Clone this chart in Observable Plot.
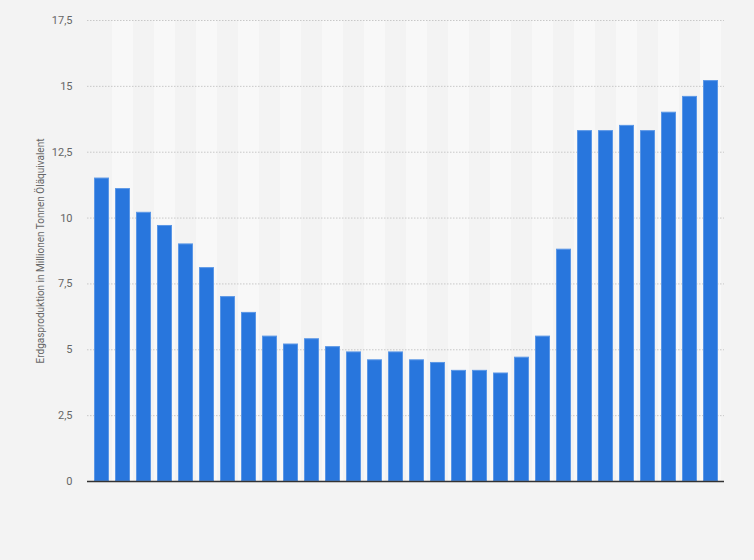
<!DOCTYPE html>
<html>
<head>
<meta charset="utf-8">
<script src="https://cdn.jsdelivr.net/npm/d3@7"></script>
<script src="https://cdn.jsdelivr.net/npm/@observablehq/plot@0.6"></script>
<style>
  html, body { margin: 0; padding: 0; background: #f3f3f3; }
  #chart { width: 754px; height: 560px; }
  svg { display: block; }
</style>
</head>
<body>
<div id="chart"></div>
<script>
const years = d3.range(1991, 2021).map(String);
const production = [11.5, 11.1, 10.2, 9.7, 9.0, 8.1, 7.0, 6.4, 5.5, 5.2,
                    5.4, 5.1, 4.9, 4.6, 4.9, 4.6, 4.5, 4.2, 4.2, 4.1,
                    4.7, 5.5, 8.8, 13.3, 13.3, 13.5, 13.3, 14.0, 14.6, 15.2];
const yTicks = [0, 2.5, 5, 7.5, 10, 12.5, 15, 17.5];
const yLabel = "Erdgasproduktion in Millionen Tonnen Öläquivalent";

const data = years.map((y, i) => ({year: y, value: production[i]}));
const bands = years.filter((y, i) => i % 2 === 1);
const fmt = v => String(v).replace(".", ",");

const plot = Plot.plot({
  width: 754,
  height: 560,
  marginLeft: 87,
  marginRight: 30,
  marginTop: 20,
  marginBottom: 79,
  style: {background: "#f3f3f3", fontFamily: "Roboto, 'Liberation Sans', sans-serif"},
  x: {domain: years, padding: 0, axis: null},
  y: {domain: [0, 17.5], ticks: yTicks, tickFormat: fmt, label: null},
  marks: [
    Plot.cell(bands, {x: d => d, fill: "#f8f8f8"}),
    Plot.gridY(yTicks.filter(t => t > 0), {stroke: "#c8c8c8", strokeOpacity: 1, strokeDasharray: "1.5,1.5", strokeWidth: 1}),
    Plot.axisY({ticks: yTicks, tickFormat: fmt, tickSize: 0, tickPadding: 15, fill: "#666", fontSize: 11, label: null}),
    Plot.barY(data, {x: "year", y: "value", fill: "#2876dd", stroke: "#5b97e6", strokeWidth: 1, insetLeft: 3.5, insetRight: 3.5}),
    Plot.ruleY([0], {stroke: "#333", strokeWidth: 1.5}),
    Plot.text([yLabel], {frameAnchor: "left", textAnchor: "middle", dx: -47, rotate: -90, fill: "#666", fontSize: 10, text: d => d})
  ]
});
document.getElementById("chart").appendChild(plot);
</script>
</body>
</html>
